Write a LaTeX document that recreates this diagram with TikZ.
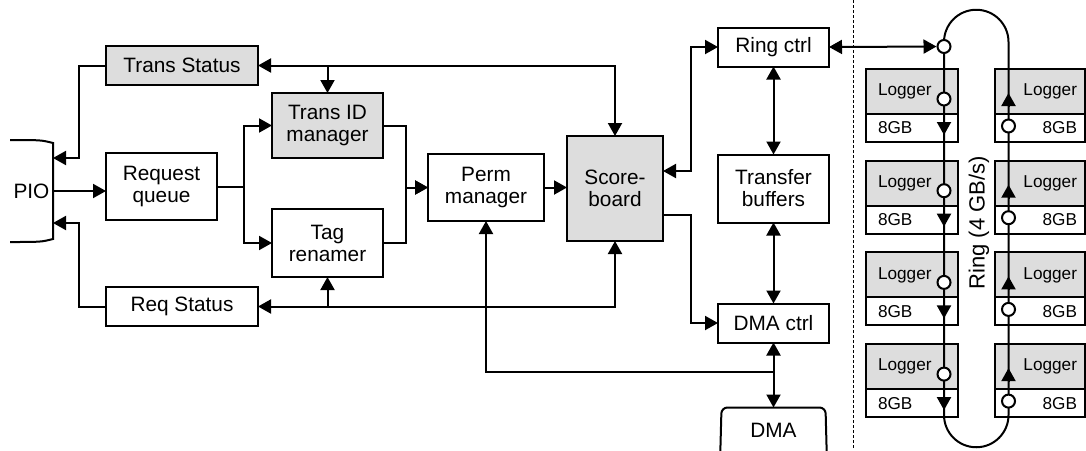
\documentclass[tikz,border=0pt]{standalone}
\usepackage{fontspec}
\setmainfont{Liberation Sans}
\usetikzlibrary{shapes,arrows.meta,positioning}

\definecolor{boxgray}{RGB}{221,221,221}

\begin{document}
\begin{tikzpicture}[x=0.5pt, y=-0.5pt, line width=1pt, >={Triangle[length=6.5pt,width=7pt]},
    font=\fontsize{10.4}{11}\selectfont]

    % Define block styles
    \tikzstyle{block} = [draw, align=center, minimum width=55.5pt, minimum height=19.5pt, inner sep=2pt, outer sep=0pt]
    \tikzstyle{shaded} = [block, fill=boxgray]
    \tikzstyle{tap} = [draw, circle, fill=white, inner sep=0pt, minimum size=6.5pt]
    \tikzstyle{logger} = [draw, fill=boxgray, minimum height=22.5pt, outer sep=0pt, font=\fontsize{8.6}{10}\selectfont]
    \tikzstyle{gbcell} = [draw, fill=white, minimum height=14pt, outer sep=0pt, font=\fontsize{8.6}{10}\selectfont]

    \useasboundingbox (0,0) rectangle (1086,450);

    % Host side
    \node[block, minimum height=33.5pt] (reqq) at (161.5,186.5) {Request\\queue};
    \node[minimum width=21.5pt, minimum height=51pt, inner sep=0pt, outer sep=0pt, left=26.5pt of reqq, yshift=-2.25pt] (pio) {PIO};
    \node[shaded, minimum width=76pt, above=34pt of reqq.north west, anchor=south west] (tstat) {Trans Status};
    \node[block, minimum width=76pt, below=33.5pt of reqq.south west, anchor=north west] (rstat) {Req Status};
    \node[shaded, minimum height=32.5pt, right=27.5pt of reqq, yshift=30.5pt] (transid) {Trans ID\\manager};
    \node[block, minimum height=34pt, right=27.5pt of reqq, yshift=-28.25pt] (tagren) {Tag\\renamer};
    \node[block, minimum width=58pt, minimum height=33.5pt, right=105.5pt of reqq, yshift=-0.5pt] (perm) {Perm\\manager};
    \node[shaded, minimum width=48pt, minimum height=52.5pt, right=11.5pt of perm, yshift=-0.5pt] (score) {Score-\\board};

    % Transfer side
    \node[block, minimum height=34pt, right=27.5pt of score] (transfer) {Transfer\\buffers};
    \node[block, above=44pt of transfer] (ringctrl) {Ring ctrl};
    \node[block, below=40.5pt of transfer] (dmactrl) {DMA ctrl};
    \node[minimum width=52pt, minimum height=22.5pt, inner sep=0pt, outer sep=0pt, below=32.5pt of dmactrl] (dma) {DMA};

    \draw (pio.north west) .. controls ([xshift=-6pt]pio.north east) .. ([yshift=-1.5pt]pio.north east)
        -- ([yshift=1.5pt]pio.south east) .. controls ([xshift=-6pt]pio.south east) .. (pio.south west);
    \draw[rounded corners=3pt] ([xshift=-0.6pt]dma.south west) -- (dma.north west) -- (dma.north east) -- ([xshift=0.6pt]dma.south east);

    \draw[->] (pio.east) -- (pio.east -| reqq.west);
    \draw[->] (reqq.east) -- ++(13.5pt,0pt) |- (transid.west);
    \draw[->] (reqq.east) -- ++(13.5pt,0pt) |- (tagren.west);
    \draw[->] (transid.east) -- ++(11.5pt,0pt) |- (perm.west);
    \draw[->] (tagren.east) -- ++(11.5pt,0pt) |- (perm.west);
    \draw[->] (perm.east) -- (perm.east -| score.west);

    \draw[<->] (tstat.east) -| (score.north);
    \draw[->] (transid.north |- tstat.east) -- (transid.north);
    \draw[<->] (rstat.east) -| (score.south);
    \draw[->] (tagren.south |- rstat.east) -- (tagren.south);
    \draw[->] (tstat.west) -- ++(-13.5pt,0pt) |- ([yshift=16.5pt]pio.east);
    \draw[->] (rstat.west) -- ++(-13.5pt,0pt) |- ([yshift=-16pt]pio.east);

    \draw[<->] ([yshift=8.75pt]score.east) -- ++(14pt,0pt) |- (ringctrl.west);
    \draw[->] ([yshift=-13.25pt]score.east) -- ++(14pt,0pt) |- (dmactrl.west);
    \draw[<->] (ringctrl) -- (transfer);
    \draw[<->] (transfer) -- (dmactrl);
    \draw[<->] (dmactrl.south) -- (dmactrl.south |- dma.north);
    \draw[->] ([yshift=-14.5pt]dmactrl.south) -| (perm.south);

    % Divider
    \draw[line width=0.5pt, dash pattern=on 1.5pt off 1pt] (853,0) -- (853,450);

    % Loggers
    \foreach \i in {0,...,3} {
        \pgfmathsetmacro{\rowtop}{69+91.7*\i}
        \node[logger, text width=34pt, inner xsep=6pt, align=left, anchor=north west] (logL\i) at (866,\rowtop) {Logger};
        \node[gbcell, text width=34pt, inner xsep=6pt, align=left, anchor=north west] (gbL\i) at (logL\i.south west) {8GB};
        \node[logger, text width=37pt, inner xsep=4pt, align=right, anchor=north west] (logR\i) at (995,\rowtop) {Logger};
        \node[gbcell, text width=37pt, inner xsep=4pt, align=right, anchor=north west] (gbR\i) at (logR\i.south west) {8GB};
    }

    % Ring
    \draw (1008.5,415) -- (1008.5,42) arc[start angle=0, end angle=180, radius=16.125pt]
        -- (944,415) arc[start angle=180, end angle=360, radius=16.125pt];
    \node[tap] (ringin) at (944,46.5) {};
    \draw[<->] (ringctrl.east) -- (ringin);
    \node[rotate=90, font=\fontsize{11}{13}\selectfont] (ringlbl) at (979,223) {Ring (4 GB/s)};

    \foreach \i in {0,...,3} {
        \pgfmathsetmacro{\rowtop}{69+91.7*\i}
        \node[tap] (tapL\i) at (944,\rowtop+30) {};
        \node[tap] (tapR\i) at (1008.5,\rowtop+57) {};
        \draw[->] (944,\rowtop+52) -- (944,\rowtop+66);
        \draw[->] (1008.5,\rowtop+38) -- (1008.5,\rowtop+24);
    }

\end{tikzpicture}
\end{document}
